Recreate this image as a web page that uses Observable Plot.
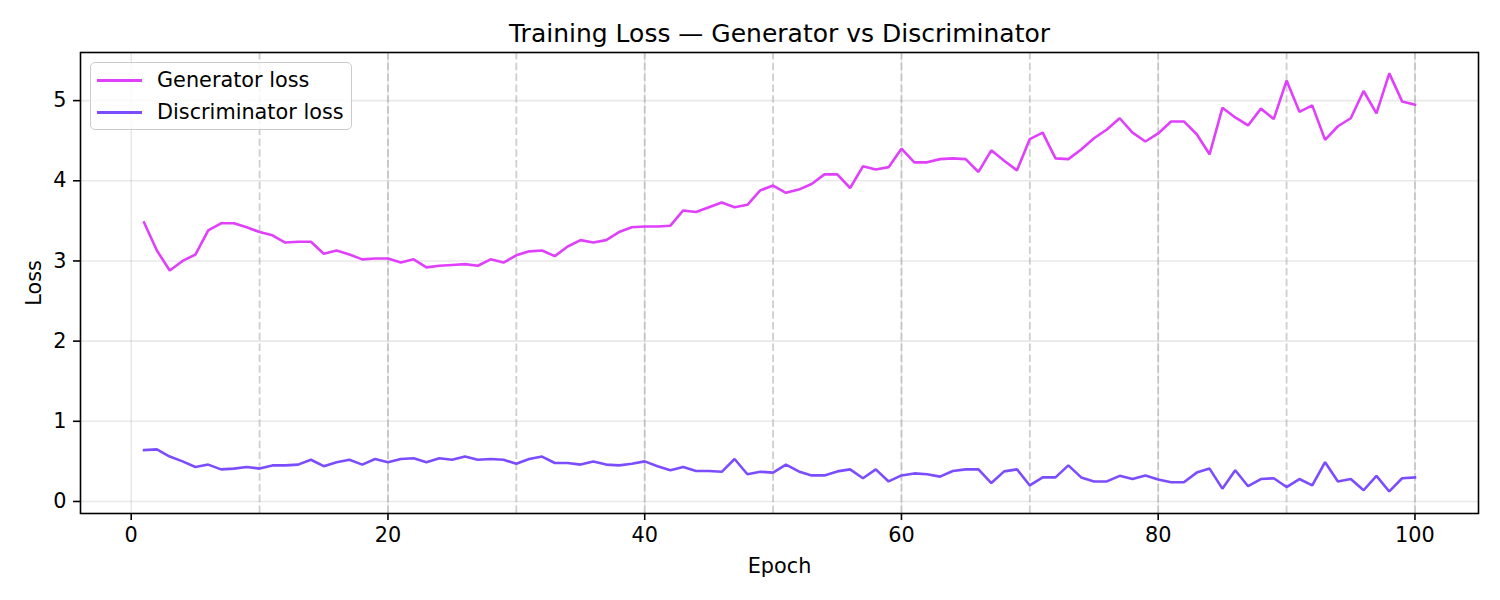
<!DOCTYPE html>
<html>
<head>
<meta charset="utf-8">
<script src="https://cdn.jsdelivr.net/npm/d3@7"></script>
<script src="https://cdn.jsdelivr.net/npm/@observablehq/plot@0.6"></script>
<style>
  html, body { margin: 0; padding: 0; background: #fff; }
  #wrap { position: relative; width: 1500px; height: 600px; font-family: "DejaVu Sans", sans-serif; }
  #legend {
    position: absolute; left: 90px; top: 62px; width: 262px; height: 68px;
    border: 1.5px solid #cccccc; border-radius: 5px; background: rgba(255,255,255,0.8);
    box-sizing: border-box;
  }
  .entry { position: absolute; left: 0; height: 24px; display: flex; align-items: center; font-size: 20.8px; color: #000; white-space: nowrap; }
  .swatch { display: inline-block; width: 45px; height: 3px; margin-left: 6px; margin-right: 15px; }
</style>
</head>
<body>
<div id="wrap">
  <div id="chart"></div>
  <div id="legend"></div>
</div>
<script>
// Epochs and per-epoch losses
const epochs = d3.range(1, 101);

const generatorLoss = [
  3.48, 3.13, 2.88, 3.00, 3.08, 3.38, 3.47, 3.47, 3.42, 3.36,
  3.32, 3.23, 3.24, 3.24, 3.09, 3.13, 3.08, 3.02, 3.03, 3.03,
  2.98, 3.02, 2.92, 2.94, 2.95, 2.96, 2.94, 3.02, 2.98, 3.07,
  3.12, 3.13, 3.06, 3.18, 3.26, 3.23, 3.26, 3.36, 3.42, 3.43,
  3.43, 3.44, 3.63, 3.61, 3.67, 3.73, 3.67, 3.70, 3.88, 3.94,
  3.85, 3.89, 3.96, 4.08, 4.08, 3.91, 4.18, 4.14, 4.17, 4.40,
  4.23, 4.23, 4.27, 4.28, 4.27, 4.11, 4.38, 4.25, 4.13, 4.52,
  4.60, 4.28, 4.27, 4.39, 4.53, 4.64, 4.78, 4.60, 4.49, 4.59,
  4.74, 4.74, 4.58, 4.33, 4.91, 4.79, 4.69, 4.90, 4.77, 5.25,
  4.86, 4.94, 4.51, 4.68, 4.78, 5.12, 4.84, 5.34, 4.99, 4.95
];

const discriminatorLoss = [
  0.64, 0.65, 0.56, 0.50, 0.43, 0.46, 0.40, 0.41, 0.43, 0.41,
  0.45, 0.45, 0.46, 0.52, 0.44, 0.49, 0.52, 0.46, 0.53, 0.49,
  0.53, 0.54, 0.49, 0.54, 0.52, 0.56, 0.52, 0.53, 0.52, 0.47,
  0.53, 0.56, 0.48, 0.48, 0.46, 0.50, 0.46, 0.45, 0.47, 0.50,
  0.44, 0.39, 0.43, 0.38, 0.38, 0.37, 0.53, 0.34, 0.37, 0.36,
  0.46, 0.375, 0.325, 0.325, 0.375, 0.40, 0.29, 0.40, 0.25, 0.325,
  0.35, 0.34, 0.31, 0.38, 0.40, 0.40, 0.23, 0.375, 0.40, 0.20,
  0.30, 0.30, 0.45, 0.30, 0.25, 0.25, 0.32, 0.28, 0.325, 0.275,
  0.24, 0.24, 0.36, 0.41, 0.16, 0.39, 0.19, 0.28, 0.29, 0.18,
  0.28, 0.20, 0.49, 0.25, 0.28, 0.14, 0.32, 0.125, 0.29, 0.30
];

const seriesNames = ["Generator loss", "Discriminator loss"];
const seriesColors = ["#e040fb", "#7c4dff"];

const xTicks = [0, 20, 40, 60, 80, 100];
const yTicks = [0, 1, 2, 3, 4, 5];
const markerEpochs = [10, 20, 30, 40, 50, 60, 70, 80, 90, 100];

const titleText = "Training Loss — Generator vs Discriminator";
const xLabel = "Epoch";
const yLabel = "Loss";

const rows = [];
epochs.forEach((e, i) => {
  rows.push({epoch: e, loss: generatorLoss[i], series: seriesNames[0]});
  rows.push({epoch: e, loss: discriminatorLoss[i], series: seriesNames[1]});
});

const fs = 20.8;

const chart = Plot.plot({
  width: 1500,
  height: 600,
  marginLeft: 80,
  marginRight: 22,
  marginTop: 52,
  marginBottom: 87,
  style: {fontFamily: "DejaVu Sans, sans-serif", fontSize: fs + "px", color: "#000", background: "#fff"},
  x: {domain: [-3.95, 104.95]},
  y: {domain: [-0.15, 5.6]},
  color: {domain: seriesNames, range: seriesColors},
  marks: [
    Plot.gridX(xTicks, {stroke: "#b0b0b0", strokeOpacity: 0.28, strokeWidth: 1.6}),
    Plot.gridY(yTicks, {stroke: "#b0b0b0", strokeOpacity: 0.28, strokeWidth: 1.6}),
    Plot.ruleX(markerEpochs, {stroke: "#a0a0a0", strokeOpacity: 0.5, strokeWidth: 1.8, strokeDasharray: "7.5,3.3"}),
    Plot.line(rows, {x: "epoch", y: "loss", z: "series", stroke: "series", strokeWidth: 2.6, strokeLinejoin: "miter", strokeLinecap: "square"}),
    Plot.frame({stroke: "#000", strokeWidth: 1.6}),
    Plot.axisX({ticks: xTicks, tickSize: 7, tickPadding: 7, label: null, tickFormat: d => String(d), fontSize: fs, stroke: "#000", strokeWidth: 1.6}),
    Plot.axisY({ticks: yTicks, tickSize: 7, tickPadding: 7, label: null, tickFormat: d => String(d), fontSize: fs, stroke: "#000", strokeWidth: 1.6}),
    Plot.text([titleText], {text: d => d, frameAnchor: "top", lineAnchor: "middle", dy: -19, fontSize: 25, fill: "#000"}),
    Plot.text([xLabel], {text: d => d, frameAnchor: "bottom", lineAnchor: "middle", dy: 53, fontSize: fs, fill: "#000"}),
    Plot.text([yLabel], {text: d => d, frameAnchor: "left", textAnchor: "middle", lineAnchor: "middle", dx: -46, rotate: -90, fontSize: fs, fill: "#000"})
  ]
});
document.getElementById("chart").appendChild(chart);

// Legend
const legend = document.getElementById("legend");
seriesNames.forEach((name, i) => {
  const row = document.createElement("div");
  row.className = "entry";
  row.style.top = (5 + i * 32) + "px";
  const sw = document.createElement("span");
  sw.className = "swatch";
  sw.style.background = seriesColors[i];
  row.appendChild(sw);
  row.appendChild(document.createTextNode(name));
  legend.appendChild(row);
});
</script>
</body>
</html>
